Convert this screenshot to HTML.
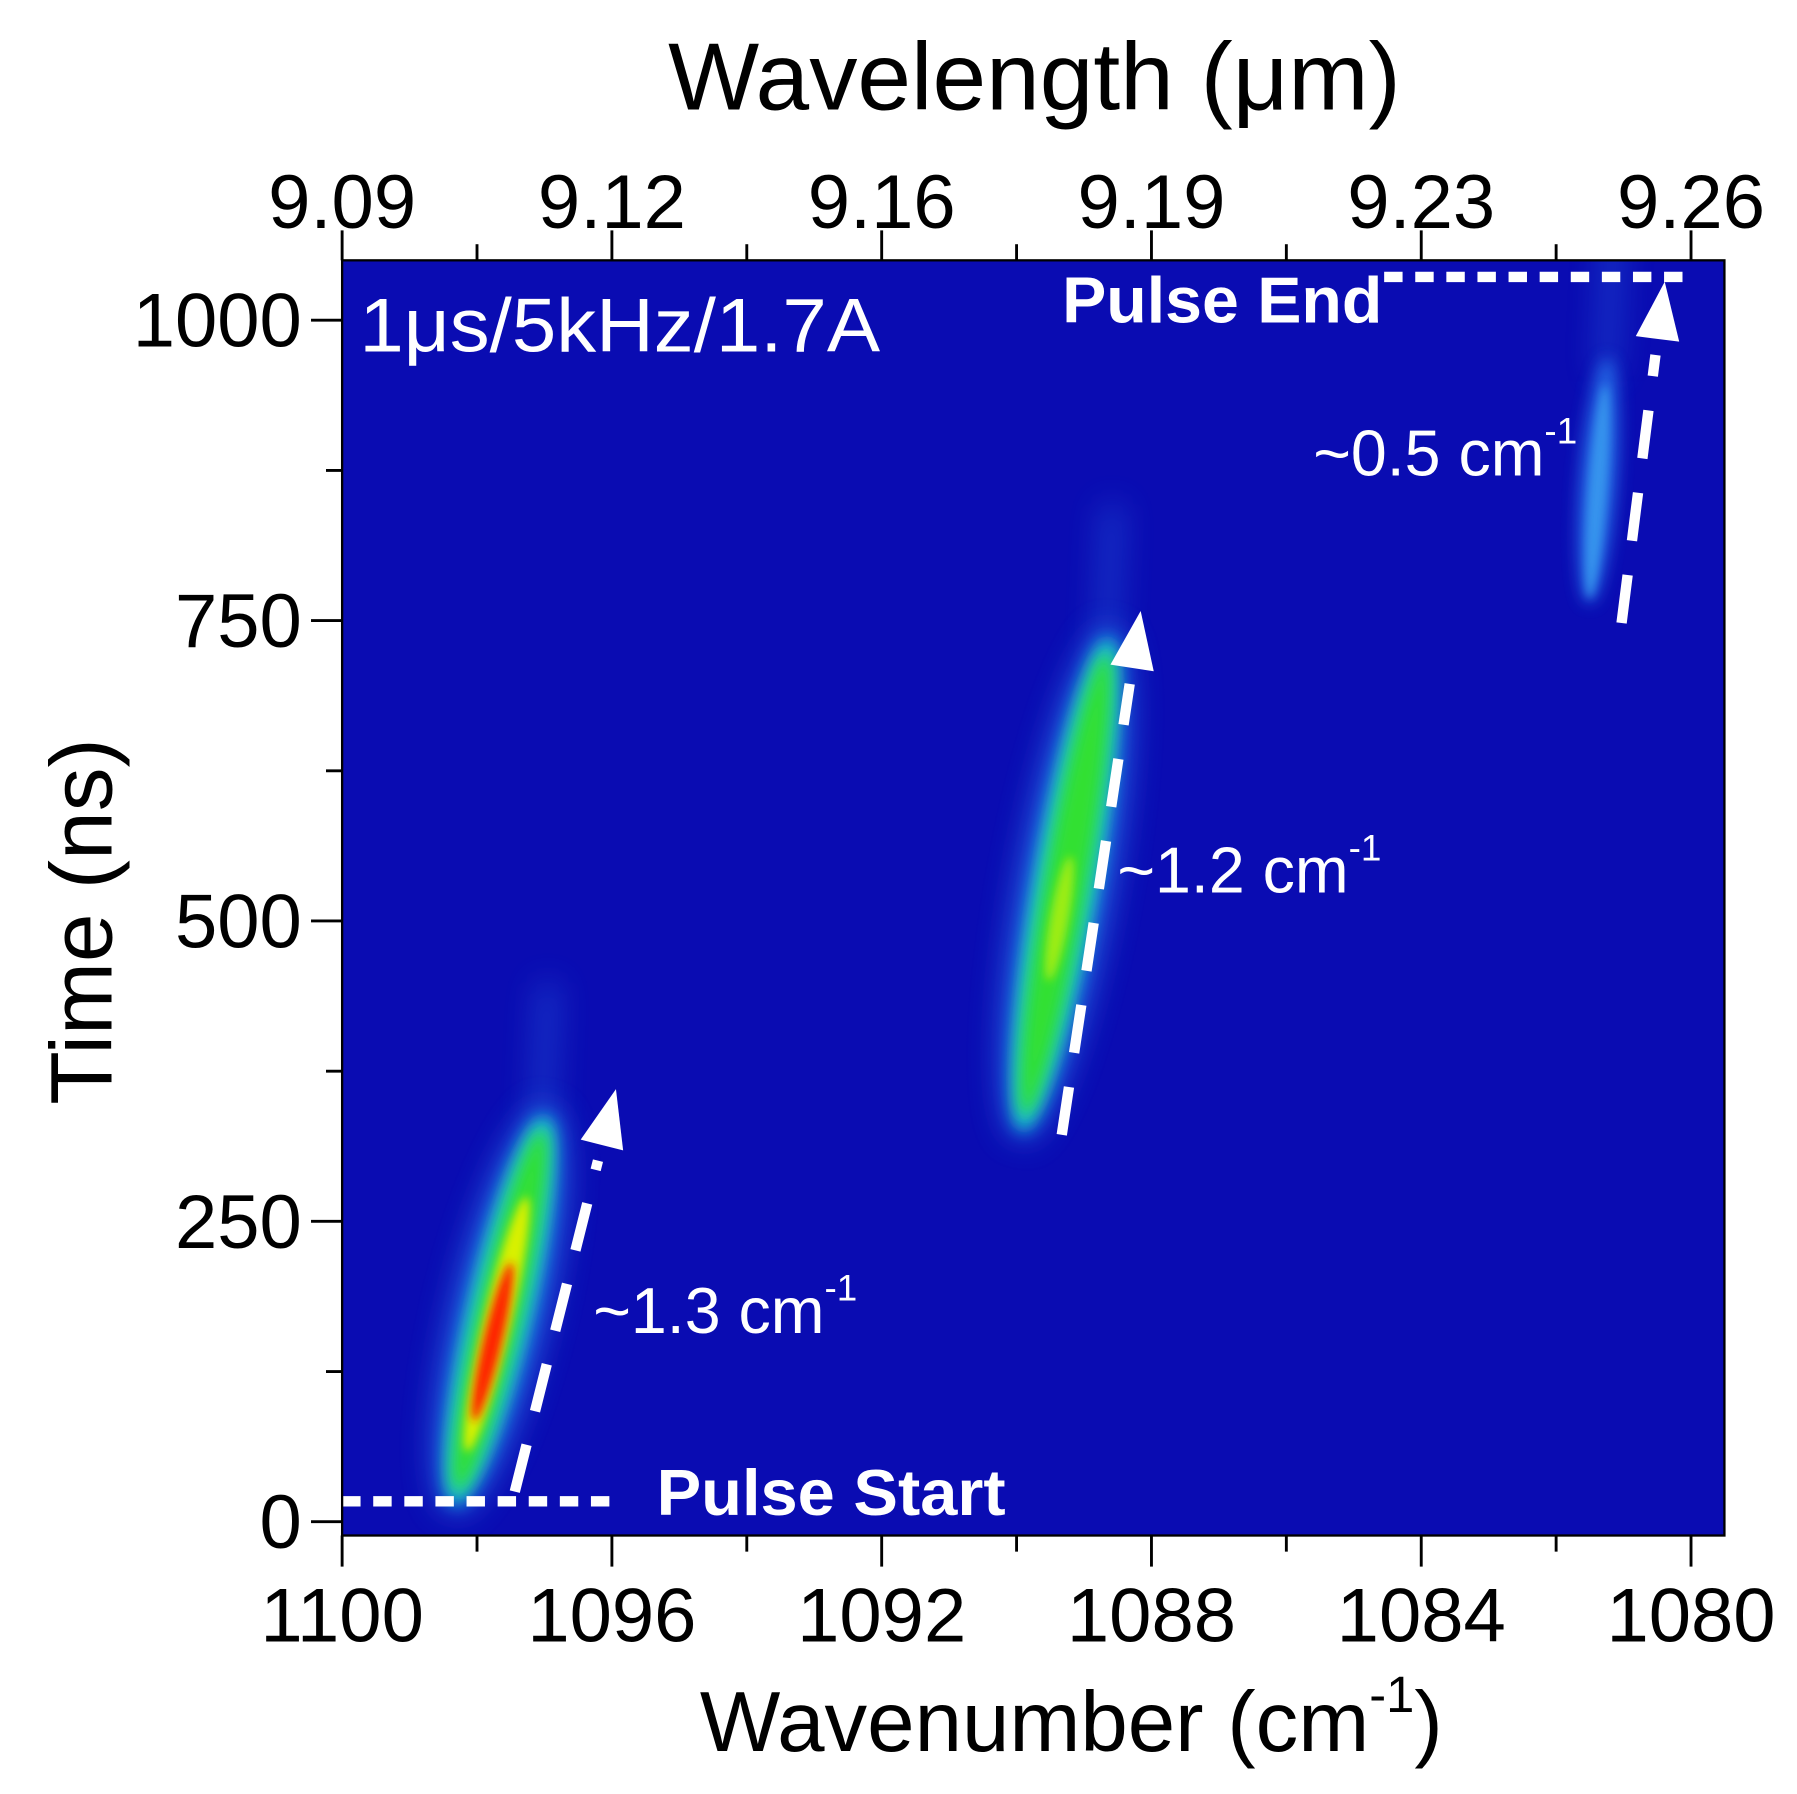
<!DOCTYPE html>
<html><head><meta charset="utf-8"><style>
html,body{margin:0;padding:0;background:#fff}
svg{display:block}
text{font-family:"Liberation Sans",sans-serif}
</style></head><body>
<svg id="chart" width="1797" height="1794" viewBox="0 0 1560 1557.4">
<defs>
<filter id="b14" filterUnits="userSpaceOnUse" x="0" y="0" width="1560" height="1560"><feGaussianBlur stdDeviation="14"/></filter>
<filter id="b7" filterUnits="userSpaceOnUse" x="0" y="0" width="1560" height="1560"><feGaussianBlur stdDeviation="7"/></filter>
<filter id="b4" filterUnits="userSpaceOnUse" x="0" y="0" width="1560" height="1560"><feGaussianBlur stdDeviation="4"/></filter>
<clipPath id="pc"><rect x="297" y="226" width="1200" height="1107"/></clipPath>
</defs>
<rect x="297" y="226" width="1200" height="1107" fill="#0a0cb2"/>
<g id="marks" clip-path="url(#pc)"></g>
<g id="axes"></g>
<rect x="297" y="226" width="1200" height="1107" fill="none" stroke="#000" stroke-width="2"/>
<text x="898" y="95" font-size="83" text-anchor="middle" textLength="636" lengthAdjust="spacingAndGlyphs">Wavelength (μm)</text>
<text x="930" y="1520" font-size="74" text-anchor="middle">Wavenumber (cm<tspan font-size="44" dy="-34">-1</tspan><tspan dy="34">)</tspan></text>
<text transform="translate(97,800) rotate(-90)" font-size="76" text-anchor="middle">Time (ns)</text>
<text x="312" y="305" font-size="66" fill="#fff" textLength="452" lengthAdjust="spacingAndGlyphs">1μs/5kHz/1.7A</text>
<text x="922" y="280" font-size="56" font-weight="bold" fill="#fff" textLength="278" lengthAdjust="spacingAndGlyphs">Pulse End</text>
<text x="570" y="1315" font-size="56" font-weight="bold" fill="#fff" textLength="303" lengthAdjust="spacingAndGlyphs">Pulse Start</text>
<text x="515" y="1157" font-size="56" fill="#fff">~1.3 cm<tspan font-size="32" dy="-28">-1</tspan></text>
<text x="970" y="775" font-size="56" fill="#fff">~1.2 cm<tspan font-size="32" dy="-28">-1</tspan></text>
<text x="1140" y="413" font-size="56" fill="#fff">~0.5 cm<tspan font-size="32" dy="-28">-1</tspan></text>
</svg>
<script>
const xTicks = [1100, 1096, 1092, 1088, 1084, 1080];
const topTickLabels = ["9.09", "9.12", "9.16", "9.19", "9.23", "9.26"];
const yTicks = [0, 250, 500, 750, 1000];
const streakStartWn = [1098.27, 1089.87, 1081.5];
const streakStartT = [30, 341, 773];
const streakEndWn = [1097.05, 1088.68, 1081.25];
const streakEndT = [322, 720, 960];
const streakPeak = [1.0, 0.7, 0.35];
const arrowStartWn = [1097.44, 1089.33, 1081.03];
const arrowStartT = [25, 322, 748];
const arrowEndWn = [1095.94, 1088.16, 1080.39];
const arrowEndT = [360, 758, 1032];
const pulseLineWn = [[1100, 1095.85], [1084.55, 1080.1]];
const pulseLineT = [17, 1036];

const X = wn => 297 + (1100 - wn) * 58.55;
const Y = t => 1321 - t * 1.043;
const NS = "http://www.w3.org/2000/svg";
const marks = document.getElementById('marks');
const axes = document.getElementById('axes');
function mk(tag, attrs, parent){const e=document.createElementNS(NS,tag);for(const k in attrs)e.setAttribute(k,attrs[k]);parent.appendChild(e);return e;}

function ell(g,x1,y1,x2,y2,rx,color,filt,op,frac0,frac1){
  const ax=x1+(x2-x1)*frac0, ay=y1+(y2-y1)*frac0, bx=x1+(x2-x1)*frac1, by=y1+(y2-y1)*frac1;
  const cx=(ax+bx)/2, cy=(ay+by)/2, L=Math.hypot(bx-ax,by-ay);
  const ang=Math.atan2(bx-ax,-(by-ay))*180/Math.PI;
  const e=mk('ellipse',{cx:cx,cy:cy,rx:rx,ry:L/2+rx*0.6,fill:color,filter:'url(#'+filt+')',opacity:op,transform:`rotate(${ang} ${cx} ${cy})`},g);
  
  
}

// streaks
streakStartWn.forEach((w,i)=>{
  const x1=X(w),y1=Y(streakStartT[i]),x2=X(streakEndWn[i]),y2=Y(streakEndT[i]);
  const p=streakPeak[i];
  const g=mk('g',{},marks);
  
  
  // faint tail above
  const tail=mk('line',{x1:x2,y1:y2,x2:X(streakEndWn[i]-0.1),y2:Y(streakEndT[i]+120),stroke:'#2f7cf0','stroke-width':16,'stroke-linecap':'round',filter:'url(#b14)',opacity:0.45},g);
  
  
  if(p>0.5){
    ell(g,x1,y1,x2,y2,40,'#2a7cf0','b14',0.8,0,1);
    ell(g,x1,y1,x2,y2,28,'#18c8d0','b7',1,0,1);
    ell(g,x1,y1,x2,y2,19,'#30e030','b7',1,0.02,0.98);
    if(p>0.9){
      ell(g,x1,y1,x2,y2,12,'#d8f000','b4',1,0.12,0.8);
      ell(g,x1,y1,x2,y2,8,'#ff2000','b4',1,0.2,0.62);
    } else {
      ell(g,x1,y1,x2,y2,8,'#b8f010','b4',0.8,0.3,0.55);
    }
  } else {
    ell(g,x1,y1,x2,y2,16,'#2a7cf0','b7',0.8,0,1);
    ell(g,x1,y1,x2,y2,8,'#3aa0f0','b4',0.8,0,0.9);
  }
});

// pulse lines
pulseLineT.forEach((t,i)=>{
  const l=mk('line',{x1:X(pulseLineWn[i][0]),y1:Y(t),x2:X(pulseLineWn[i][1]),y2:Y(t),stroke:'#fff','stroke-width':9,'stroke-dasharray':'16 11'},marks);
  
  
});

// arrows
arrowStartWn.forEach((w,i)=>{
  const x1=X(w),y1=Y(arrowStartT[i]),x2=X(arrowEndWn[i]),y2=Y(arrowEndT[i]);
  const dx=x2-x1,dy=y2-y1,L=Math.hypot(dx,dy),ux=dx/L,uy=dy/L;
  const bx=x2-ux*50,by=y2-uy*50;
  const l=mk('line',{x1:x1,y1:y1,x2:bx-ux*14,y2:by-uy*14,stroke:'#fff','stroke-width':9,'stroke-dasharray':'42 30'},marks);
  
  
  const px=-uy,py=ux;
  const h=mk('polygon',{points:`${x2},${y2} ${bx+px*19},${by+py*19} ${bx-px*19},${by-py*19}`,fill:'#fff'},marks);
  
  
});

// axes ticks
for(let k=0;k<xTicks.length;k++){
  const x=X(xTicks[k]);
  let t=mk('line',{x1:x,y1:1333,x2:x,y2:1360,stroke:'#000','stroke-width':2.5},axes);
  
  t=mk('line',{x1:x,y1:226,x2:x,y2:200,stroke:'#000','stroke-width':2.5},axes);
  
  let tx=mk('text',{x:x,y:1425,'font-size':66,'text-anchor':'middle'},axes);tx.textContent=xTicks[k];
  
  tx=mk('text',{x:x,y:198,'font-size':66,'text-anchor':'middle'},axes);tx.textContent=topTickLabels[k];
  
  if(k<xTicks.length-1){
    const xm=X(xTicks[k]-2);
    t=mk('line',{x1:xm,y1:1333,x2:xm,y2:1347,stroke:'#000','stroke-width':2.5},axes);
    
    t=mk('line',{x1:xm,y1:226,x2:xm,y2:212,stroke:'#000','stroke-width':2.5},axes);
    
  }
}
yTicks.forEach((v,k)=>{
  const y=Y(v);
  let t=mk('line',{x1:270,y1:y,x2:297,y2:y,stroke:'#000','stroke-width':2.5},axes);
  
  let tx=mk('text',{x:262,y:y+23,'font-size':66,'text-anchor':'end'},axes);tx.textContent=v;
  
  const ym=Y(v+125);
  if(ym>226){
    t=mk('line',{x1:283,y1:ym,x2:297,y2:ym,stroke:'#000','stroke-width':2.5},axes);
    
  }
});
</script>
</body></html>
